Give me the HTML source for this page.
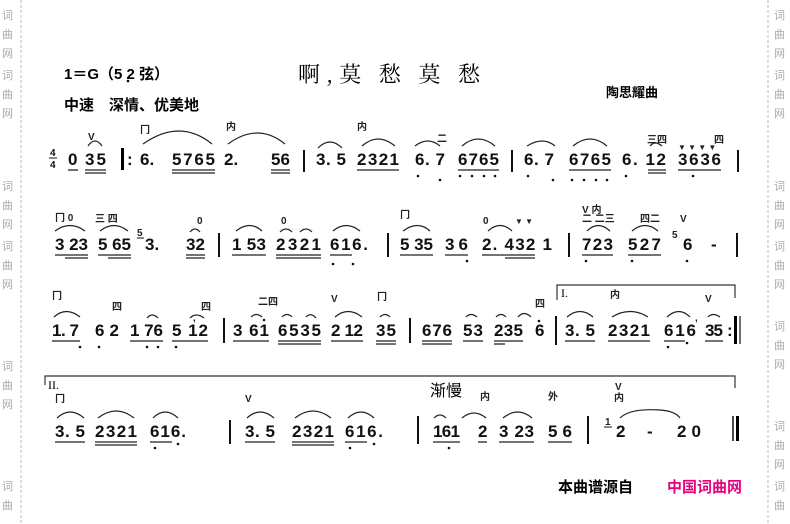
<!DOCTYPE html>
<html><head><meta charset="utf-8"><style>
html,body{margin:0;padding:0;background:#fff}
svg{display:block}
.n{font:bold 17px "Liberation Sans",sans-serif;fill:#111}
.s{font:bold 10px "Liberation Sans","Noto Sans CJK SC",sans-serif;fill:#222}
.w{font:11px "Noto Sans CJK SC",sans-serif;fill:#aaa}
.u{stroke:#222;stroke-width:1.3}
.a{fill:none;stroke:#222;stroke-width:1.2}
.b{stroke:#111;stroke-width:2}
</style></head><body>
<svg width="790" height="524" viewBox="0 0 790 524" xmlns="http://www.w3.org/2000/svg">
<line x1="21" y1="0" x2="21" y2="524" stroke="#bbb" stroke-dasharray="3,2"/>
<line x1="768" y1="0" x2="768" y2="524" stroke="#bbb" stroke-dasharray="3,2"/>
<g class="w">
<text x="2" y="19">词</text><text x="2" y="38">曲</text><text x="2" y="57">网</text>
<text x="2" y="79">词</text><text x="2" y="98">曲</text><text x="2" y="117">网</text>
<text x="2" y="190">词</text><text x="2" y="209">曲</text><text x="2" y="228">网</text>
<text x="2" y="250">词</text><text x="2" y="269">曲</text><text x="2" y="288">网</text>
<text x="2" y="370">词</text><text x="2" y="389">曲</text><text x="2" y="408">网</text>
<text x="2" y="490">词</text><text x="2" y="509">曲</text>
<text x="774" y="19">词</text><text x="774" y="38">曲</text><text x="774" y="57">网</text>
<text x="774" y="79">词</text><text x="774" y="98">曲</text><text x="774" y="117">网</text>
<text x="774" y="190">词</text><text x="774" y="209">曲</text><text x="774" y="228">网</text>
<text x="774" y="250">词</text><text x="774" y="269">曲</text><text x="774" y="288">网</text>
<text x="774" y="330">词</text><text x="774" y="349">曲</text><text x="774" y="368">网</text>
<text x="774" y="430">词</text><text x="774" y="449">曲</text><text x="774" y="468">网</text>
<text x="774" y="490">词</text><text x="774" y="509">曲</text>
</g>
<text x="64" y="79" style="font:bold 15px 'Liberation Sans','Noto Sans CJK SC',sans-serif">1＝G（5 2 弦）</text>
<circle cx="128" cy="81" r="1.3"/>
<text x="64" y="110" style="font:bold 15px 'Liberation Sans','Noto Sans CJK SC',sans-serif">中速　深情、优美地</text>
<text x="298" y="82" style="font:22px 'Noto Serif CJK SC','Noto Sans CJK SC',serif" letter-spacing="6">啊,莫 愁 莫 愁</text>
<text x="606" y="97" style="font:bold 13px 'Noto Sans CJK SC',sans-serif">陶思耀曲</text>

<!-- ROW 1 -->
<g class="n">
<text x="50" y="156" style="font-size:10px">4</text><text x="50" y="168" style="font-size:10px">4</text>
<line x1="49" y1="158" x2="57" y2="158" stroke="#111"/>
<text x="68" y="165">0</text><text x="85" y="165" textLength="21">35</text>
<text x="140" y="165">6.</text><text x="172" y="165" textLength="43">5765</text>
<text x="224" y="165">2.</text><text x="271" y="165" textLength="19">56</text>
<text x="316" y="165" textLength="30">3. 5</text><text x="357" y="165" textLength="42">2321</text>
<text x="415" y="165" textLength="30">6. 7</text><text x="458" y="165" textLength="41">6765</text>
<text x="524" y="165" textLength="30">6. 7</text><text x="569" y="165" textLength="42">6765</text>
<text x="622" y="165" textLength="44">6. 12</text><text x="678" y="165" textLength="43">3636</text>
</g>
<rect x="121" y="148" width="3" height="22"/><text x="127" y="165" class="n">:</text>
<line class="b" x1="304" y1="150" x2="304" y2="172"/><line class="b" x1="512" y1="150" x2="512" y2="172"/><line class="b" x1="738" y1="150" x2="738" y2="172"/>
<g class="u">
<line x1="68" y1="170" x2="78" y2="170"/><line x1="85" y1="170" x2="106" y2="170"/><line x1="85" y1="173" x2="106" y2="173"/>
<line x1="172" y1="170" x2="215" y2="170"/><line x1="172" y1="173" x2="215" y2="173"/>
<line x1="271" y1="170" x2="290" y2="170"/><line x1="271" y1="173" x2="290" y2="173"/>
<line x1="357" y1="170" x2="399" y2="170"/><line x1="458" y1="170" x2="499" y2="170"/>
<line x1="569" y1="170" x2="611" y2="170"/><line x1="648" y1="170" x2="666" y2="170"/><line x1="648" y1="173" x2="666" y2="173"/>
<line x1="678" y1="170" x2="721" y2="170"/>
</g>
<g class="a">
<path d="M88 146 Q95 136 102 146"/><path d="M143 144 Q180 118 212 144"/><path d="M228 144 Q258 122 285 144"/>
<path d="M318 148 Q330 136 342 148"/><path d="M362 146 Q378 132 395 146"/><path d="M415 146 Q428 136 440 146"/>
<path d="M462 146 Q478 132 495 146"/><path d="M527 146 Q543 136 555 146"/><path d="M573 146 Q590 132 607 146"/><path d="M650 146 Q655 140 662 146"/>
</g>
<g class="s"><text x="88" y="140">V</text><text x="140" y="133">冂</text><text x="226" y="130">内</text><text x="357" y="130">内</text>
<text x="647" y="143">三四</text><text x="714" y="143">四</text><text x="437" y="142">二</text>
<text x="678" y="150" style="font-size:8px">▼ ▼ ▼ ▼</text></g>
<g fill="#111"><circle cx="418" cy="176" r="1.3"/><circle cx="440" cy="180" r="1.3"/><circle cx="460" cy="176" r="1.3"/><circle cx="472" cy="176" r="1.3"/><circle cx="484" cy="176" r="1.3"/><circle cx="495" cy="176" r="1.3"/>
<circle cx="528" cy="176" r="1.3"/><circle cx="553" cy="180" r="1.3"/><circle cx="572" cy="180" r="1.3"/><circle cx="584" cy="180" r="1.3"/><circle cx="596" cy="180" r="1.3"/><circle cx="607" cy="180" r="1.3"/><circle cx="626" cy="176" r="1.3"/><circle cx="693" cy="176" r="1.3"/></g>

<!-- ROW 2 -->
<g class="n">
<text x="55" y="250" textLength="33">3 23</text><text x="98" y="250" textLength="33">5 65</text>
<text x="145" y="250">3.</text><text x="186" y="250" textLength="19">32</text>
<text x="232" y="250" textLength="34">1 53</text><text x="276" y="250" textLength="45">2321</text><text x="330" y="250" textLength="38">616.</text>
<text x="400" y="250" textLength="33">5 35</text><text x="445" y="250" textLength="23">3 6</text><text x="482" y="250" textLength="70">2. 432 1</text>
<text x="582" y="250" textLength="31">723</text><text x="628" y="250" textLength="33">527</text><text x="683" y="250">6</text><text x="711" y="250">-</text>
</g>
<text x="137" y="236" class="s">5</text><line x1="137" y1="238" x2="144" y2="238" stroke="#111"/>
<line class="b" x1="219" y1="233" x2="219" y2="257"/><line class="b" x1="388" y1="233" x2="388" y2="257"/><line class="b" x1="569" y1="233" x2="569" y2="257"/><line class="b" x1="737" y1="233" x2="737" y2="257"/>
<g class="u"><line x1="55" y1="255" x2="88" y2="255"/><line x1="65" y1="258" x2="88" y2="258"/><line x1="98" y1="255" x2="131" y2="255"/><line x1="108" y1="258" x2="131" y2="258"/>
<line x1="186" y1="255" x2="205" y2="255"/><line x1="186" y1="258" x2="205" y2="258"/><line x1="232" y1="255" x2="266" y2="255"/><line x1="276" y1="255" x2="321" y2="255"/><line x1="276" y1="258" x2="321" y2="258"/><line x1="330" y1="255" x2="352" y2="255"/>
<line x1="400" y1="255" x2="433" y2="255"/><line x1="445" y1="255" x2="468" y2="255"/><line x1="482" y1="255" x2="535" y2="255"/><line x1="505" y1="258" x2="535" y2="258"/>
<line x1="582" y1="255" x2="613" y2="255"/><line x1="628" y1="255" x2="661" y2="255"/></g>
<g class="a"><path d="M55 231 Q70 220 85 231"/><path d="M100 231 Q114 220 128 231"/><path d="M190 232 Q195 226 200 232"/><path d="M236 231 Q250 220 262 231"/>
<path d="M280 232 Q286 226 292 232"/><path d="M300 232 Q306 226 312 232"/><path d="M333 231 Q346 220 360 231"/><path d="M403 231 Q418 220 430 231"/><path d="M488 231 Q500 220 512 231"/>
<path d="M587 231 Q598 220 610 231"/><path d="M632 231 Q645 220 658 231"/></g>
<g class="s"><text x="55" y="221">冂 0</text><text x="95" y="222">三 四</text><text x="197" y="224">0</text><text x="281" y="224">0</text><text x="400" y="218">冂</text><text x="483" y="224">0</text>
<text x="515" y="224" style="font-size:8px">▼ ▼</text><text x="582" y="213">V 内</text><text x="582" y="222">二 二三</text><text x="640" y="222">四二</text><text x="680" y="222">V</text><text x="672" y="238">5</text></g>
<g fill="#111"><circle cx="333" cy="264" r="1.3"/><circle cx="353" cy="264" r="1.3"/><circle cx="467" cy="261" r="1.3"/><circle cx="586" cy="261" r="1.3"/><circle cx="632" cy="261" r="1.3"/><circle cx="687" cy="261" r="1.3"/></g>

<!-- ROW 3 -->
<g class="n">
<text x="52" y="336" textLength="27">1. 7</text><text x="95" y="336" textLength="24">6 2</text><text x="130" y="336" textLength="33">1 76</text><text x="172" y="336" textLength="36">5 12</text>
<text x="233" y="336" textLength="36">3 61</text><text x="278" y="336" textLength="43">6535</text><text x="331" y="336" textLength="32">2 12</text><text x="376" y="336" textLength="20">35</text>
<text x="422" y="336" textLength="30">676</text><text x="463" y="336" textLength="20">53</text><text x="494" y="336" textLength="29">235</text><text x="535" y="336">6</text>
<text x="565" y="336" textLength="30">3. 5</text><text x="608" y="336" textLength="42">2321</text><text x="664" y="336" textLength="32">616</text><text x="705" y="336" textLength="18">35</text><text x="727" y="336">:</text>
</g>
<line class="b" x1="224" y1="318" x2="224" y2="343"/><line class="b" x1="410" y1="318" x2="410" y2="343"/><line class="b" x1="556" y1="316" x2="556" y2="345"/>
<rect x="734" y="316" width="3" height="28"/><line x1="740" y1="316" x2="740" y2="344" stroke="#111" stroke-width="1.2"/>
<path d="M557 300 V285 H735 V298" fill="none" stroke="#333" stroke-width="1.2"/><text x="561" y="297" style="font:12px 'Liberation Serif',serif">I.</text>
<g class="u"><line x1="52" y1="341" x2="80" y2="341"/><line x1="130" y1="341" x2="163" y2="341"/><line x1="172" y1="341" x2="208" y2="341"/><line x1="233" y1="341" x2="269" y2="341"/><line x1="278" y1="341" x2="321" y2="341"/><line x1="278" y1="344" x2="321" y2="344"/>
<line x1="331" y1="341" x2="363" y2="341"/><line x1="376" y1="341" x2="396" y2="341"/><line x1="376" y1="344" x2="396" y2="344"/><line x1="422" y1="341" x2="452" y2="341"/><line x1="422" y1="344" x2="452" y2="344"/>
<line x1="463" y1="341" x2="483" y2="341"/><line x1="494" y1="341" x2="523" y2="341"/><line x1="494" y1="344" x2="505" y2="344"/><line x1="565" y1="341" x2="595" y2="341"/><line x1="608" y1="341" x2="650" y2="341"/><line x1="664" y1="341" x2="685" y2="341"/><line x1="705" y1="341" x2="723" y2="341"/></g>
<g class="a"><path d="M54 317 Q66 306 80 317"/><path d="M147 318 Q152 312 158 318"/><path d="M190 318 Q196 312 204 318"/><path d="M251 317 Q256 312 262 317"/><path d="M282 317 Q287 312 292 317"/><path d="M306 317 Q311 312 316 318"/>
<path d="M335 317 Q348 306 362 317"/><path d="M380 317 Q385 312 390 317"/><path d="M466 317 Q471 312 477 317"/><path d="M496 317 Q501 312 506 317"/><path d="M518 317 Q524 310 531 317"/>
<path d="M567 317 Q580 306 593 317"/><path d="M612 317 Q630 306 648 317"/><path d="M667 317 Q679 306 690 317"/><path d="M708 317 Q713 312 720 317"/></g>
<g class="s"><text x="52" y="299">冂</text><text x="112" y="310">四</text><text x="201" y="310">四</text><text x="258" y="305">二四</text><text x="331" y="302">V</text><text x="377" y="300">冂</text>
<text x="535" y="307">四</text><text x="610" y="298">内</text><text x="705" y="302">V</text><text x="695" y="321">,</text><text x="193" y="321">,</text></g>
<g fill="#111"><circle cx="80" cy="347" r="1.3"/><circle cx="99" cy="347" r="1.3"/><circle cx="147" cy="347" r="1.3"/><circle cx="158" cy="347" r="1.3"/><circle cx="176" cy="347" r="1.3"/><circle cx="264" cy="320" r="1.3"/><circle cx="539" cy="321" r="1.3"/><circle cx="668" cy="347" r="1.3"/><circle cx="687" cy="343" r="1.3"/></g>

<!-- ROW 4 -->
<path d="M45 385 V376 H735 V388" fill="none" stroke="#333" stroke-width="1.2"/><text x="48" y="389" style="font:12px 'Liberation Serif',serif">II.</text>
<text x="430" y="396" style="font:16px 'Noto Sans CJK SC',sans-serif">渐慢</text>
<g class="n">
<text x="55" y="437" textLength="30">3. 5</text><text x="95" y="437" textLength="42">2321</text><text x="150" y="437" textLength="36">616.</text>
<text x="245" y="437" textLength="30">3. 5</text><text x="292" y="437" textLength="42">2321</text><text x="345" y="437" textLength="38">616.</text>
<text x="433" y="437" textLength="27">161</text><text x="478" y="437">2</text><text x="499" y="437" textLength="35">3 23</text><text x="548" y="437" textLength="24">5 6</text>
<text x="616" y="437">2</text><text x="647" y="437">-</text><text x="677" y="437" textLength="24">2 0</text>
</g>
<text x="605" y="425" class="s">1</text><line x1="604" y1="427" x2="612" y2="427" stroke="#111"/>
<line class="b" x1="230" y1="420" x2="230" y2="444"/><line class="b" x1="418" y1="416" x2="418" y2="444"/><line class="b" x1="588" y1="416" x2="588" y2="444"/>
<line x1="733" y1="416" x2="733" y2="441" stroke="#111" stroke-width="1.5"/><rect x="736" y="416" width="3" height="25"/>
<g class="u"><line x1="55" y1="442" x2="85" y2="442"/><line x1="95" y1="442" x2="137" y2="442"/><line x1="95" y1="445" x2="137" y2="445"/><line x1="150" y1="442" x2="172" y2="442"/>
<line x1="245" y1="442" x2="275" y2="442"/><line x1="292" y1="442" x2="334" y2="442"/><line x1="292" y1="445" x2="334" y2="445"/><line x1="345" y1="442" x2="367" y2="442"/>
<line x1="433" y1="442" x2="460" y2="442"/><line x1="478" y1="442" x2="487" y2="442"/><line x1="499" y1="442" x2="534" y2="442"/><line x1="548" y1="442" x2="572" y2="442"/></g>
<g class="a"><path d="M57 418 Q70 406 84 418"/><path d="M98 418 Q116 404 134 418"/><path d="M153 418 Q165 406 178 418"/><path d="M247 418 Q260 406 274 418"/><path d="M295 418 Q313 404 331 418"/><path d="M348 418 Q361 406 374 418"/>
<path d="M434 418 Q440 412 446 418"/><path d="M462 418 Q474 408 486 418"/><path d="M503 418 Q518 406 532 418"/><path d="M620 418 Q630 408 660 410 Q675 411 680 418"/></g>
<g class="s"><text x="55" y="402">冂</text><text x="245" y="402">V</text><text x="480" y="400">内</text><text x="548" y="400">外</text><text x="615" y="390">V</text><text x="614" y="401">内</text></g>
<g fill="#111"><circle cx="449" cy="448" r="1.3"/><circle cx="155" cy="448" r="1.3"/><circle cx="178" cy="444" r="1.3"/><circle cx="350" cy="448" r="1.3"/><circle cx="374" cy="444" r="1.3"/></g>

<text x="558" y="492" style="font:bold 15px 'Noto Sans CJK SC',sans-serif">本曲谱源自</text>
<text x="667" y="492" style="font:bold 15px 'Noto Sans CJK SC',sans-serif;fill:#e6007e">中国词曲网</text>
</svg>
</body></html>
